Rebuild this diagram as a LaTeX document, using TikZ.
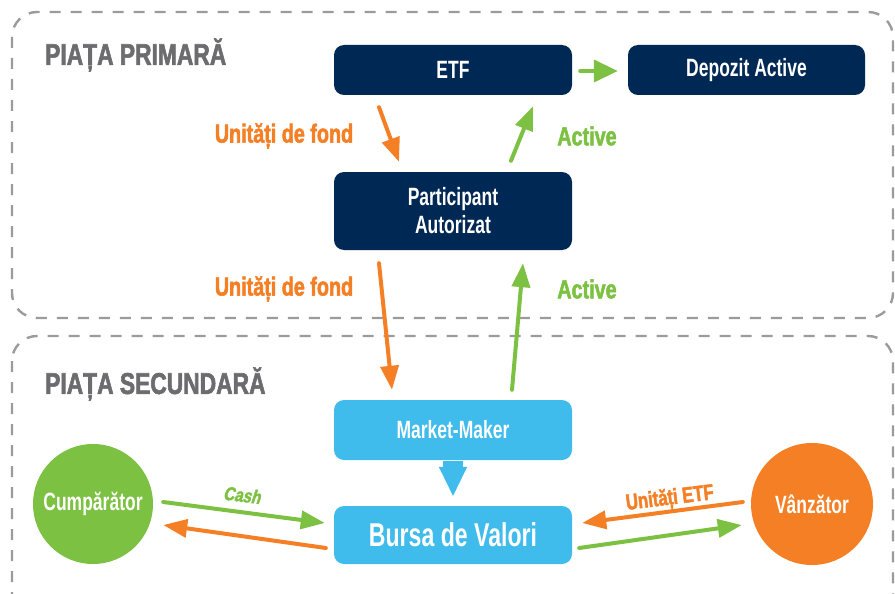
\documentclass[tikz,border=0pt]{standalone}
\usepackage{fontspec}
\setmainfont{Liberation Sans}
\newfontfamily\cond{Liberation Sans}[FakeStretch=0.7]
\newfontfamily\heavy{Liberation Sans Bold}[FakeStretch=0.76,FakeBold=2]
\newfontfamily\heavysl{Liberation Sans Bold}[FakeStretch=0.8,FakeBold=2,FakeSlant=0.2]
\usetikzlibrary{arrows.meta,calc}
\definecolor{navy}{HTML}{002855}
\definecolor{skyb}{HTML}{3FBBEC}
\definecolor{leaf}{HTML}{7CC142}
\definecolor{orng}{HTML}{F47F24}
\definecolor{ttlgray}{HTML}{6C6C6E}
\definecolor{dashgray}{HTML}{9B9B9B}
\tikzset{
  zone/.style={draw=dashgray,line width=2.4pt,dash pattern=on 11pt off 10pt,rounded corners=25pt},
  ttl/.style={text=ttlgray,font=\heavy\fontsize{30}{30}\selectfont,anchor=west,inner sep=0pt},
  darkbox/.style={fill=navy,rounded corners=10pt,text=white,minimum width=238pt,inner sep=0pt,align=center,font=\cond\bfseries\fontsize{25}{28}\selectfont},
  lightbox/.style={fill=skyb,rounded corners=10pt,text=white,minimum width=238pt,inner sep=0pt,align=center,font=\cond\bfseries\fontsize{25}{28}\selectfont},
  party/.style={circle,inner sep=0pt,text=white,font=\cond\bfseries\fontsize{25}{26}\selectfont},
  flow/.style={line width=4pt,line cap=round,-{Triangle[width=18pt,length=24pt]}},
  lbl/.style={inner sep=0pt,font=\heavy\fontsize{26}{26}\selectfont},
}
\begin{document}
\begin{tikzpicture}[x=1pt,y=-1pt]
\useasboundingbox (0,0) rectangle (895,594);
% zones
\draw[zone] (12,12) rectangle (893,318);
\draw[zone] (12,336) rectangle (893,620);
\node[ttl] (t1) at (45,55) {PIAȚA PRIMARĂ};
\node[ttl] (t2) at (45,384) {PIAȚA SECUNDARĂ};
% nodes
\node[darkbox,minimum height=50pt] (etf) at (453,70) {ETF};
\node[darkbox,minimum width=237pt,minimum height=50pt] (dep) at (746.5,70) {Depozit Active};
\node[darkbox,minimum height=78pt] (pa) at (453,211) {Participant\\Autorizat};
\node[lightbox,minimum height=60pt] (mm) at (453,430) {Market-Maker};
\node[lightbox,minimum height=58pt,font=\cond\bfseries\fontsize{33}{34}\selectfont] (bv) at (453,535) {Bursa de Valori};
\node[party,fill=leaf,minimum size=120pt] (buy) at (93,504) {Cumpărător};
\node[party,fill=orng,minimum size=122pt] (sell) at (812,504) {Vânzător};
% labels
\node[lbl,text=orng] (l1) at (284,136) {Unități de fond};
\node[lbl,text=orng] (l2) at (284,289) {Unități de fond};
\node[lbl,text=leaf] (l3) at (587,136) {Active};
\node[lbl,text=leaf] (l4) at (587,289) {Active};
\node[lbl,text=leaf,rotate=-7,font=\heavysl\fontsize{19}{19}\selectfont] (l5) at (242,495) {Cash};
\node[lbl,text=orng,rotate=7,font=\heavy\fontsize{22}{22}\selectfont] (l6) at (670,499) {Unități ETF};
% connectors
\draw[flow,leaf,-{Triangle[width=22pt,length=24pt]}] ($(etf.east)+(8,1)$) -- ($(dep.west)+(-10,1)$);
\draw[flow,orng] ($(etf.south)+(-74,12)$) -- ($(pa.north)+(-54,-10)$);
\draw[flow,leaf] ($(pa.north)+(58,-11)$) -- ($(etf.south)+(80,11)$);
\draw[flow,orng] ($(pa.south)+(-74,13)$) -- ($(mm.north)+(-61,-10)$);
\draw[flow,leaf] ($(mm.north)+(59,-10)$) -- ($(pa.south)+(70,13)$);
\draw[skyb,line width=20pt,-{Triangle[width=26pt,length=30pt]},shorten <=1pt,shorten >=9pt] (mm.south) -- (bv.north);
\draw[flow,leaf] ($(buy.east)+(10,-2)$) -- ($(bv.west)+(-9,-12)$);
\draw[flow,orng] ($(bv.west)+(-8,13)$) -- ($(buy.east)+(10,21)$);
\draw[flow,orng] ($(sell.west)+(-8,-2)$) -- ($(bv.east)+(10,-12)$);
\draw[flow,leaf] ($(bv.east)+(7,13)$) -- ($(sell.west)+(-9,21)$);
\end{tikzpicture}
\end{document}
